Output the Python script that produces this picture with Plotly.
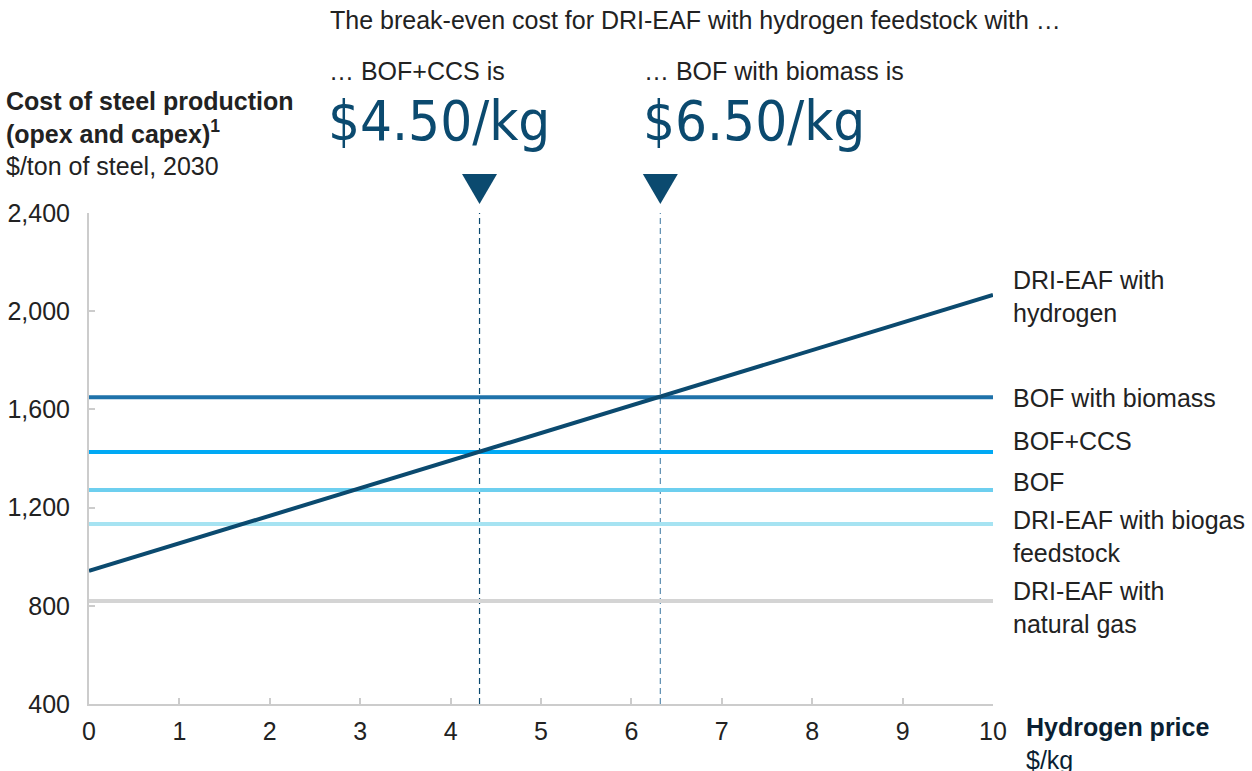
import plotly.graph_objects as go

# hydrogen price, $/kg
price = [0, 10]
# cost of steel production, $/ton of steel, 2030
dri_hydrogen = [942, 2066]
bof_biomass = [1650, 1650]
bof_ccs = [1426, 1426]
bof = [1272, 1272]
dri_biogas = [1133, 1133]
dri_natgas = [820, 820]

breakeven_x = [4.32, 6.32]
breakeven_lbl = ["… BOF+CCS is", "… BOF with biomass is"]
breakeven_val = ["$4.50/kg", "$6.50/kg"]

series = [
    ("DRI-EAF with<br>natural gas", dri_natgas, "#D4D4D4"),
    ("DRI-EAF with biogas<br>feedstock", dri_biogas, "#A6E3F2"),
    ("BOF", bof, "#6DCFEF"),
    ("BOF+CCS", bof_ccs, "#00A9F4"),
    ("BOF with biomass", bof_biomass, "#1F72AA"),
    ("DRI-EAF with<br>hydrogen", dri_hydrogen, "#0B4A6F"),
]
# label positions (pixel rows of the label centres)
label_rows = [607, 536, 482, 441, 398, 296]

FONT = "Liberation Sans, Arial, sans-serif"
NAVY = "#0B4A6F"
TXT = "#222222"

W, H = 1252, 771
L, R, T, B = 89, 993, 213, 704


def px(xp, yp):
    # pixel -> paper coords
    return dict(x=(xp - L) / (R - L), y=(B - yp) / (B - T), xref="paper", yref="paper")


fig = go.Figure()

for name, ys, col in series:
    fig.add_trace(go.Scatter(x=price, y=ys, mode="lines", name=name,
                             line=dict(color=col, width=4), hoverinfo="skip"))

dash_cols = [NAVY, "#5C8DB0"]
for bx, dc in zip(breakeven_x, dash_cols):
    fig.add_shape(type="line", x0=bx, x1=bx, y0=400, y1=2432, xref="x", yref="y",
                  line=dict(color=dc, width=1.2, dash="6px,4px"), layer="below")
    # triangle marker above the plot
    fig.add_shape(type="path", xref="x", yref="paper", xsizemode="pixel", ysizemode="pixel",
                  xanchor=bx, yanchor=1, path="M-17.5,39 L17.5,39 L0,9 Z",
                  fillcolor=NAVY, line=dict(width=0))

anns = []
for (name, ys, col), row in zip(series, label_rows):
    anns.append(dict(**px(1011, row), text=name, showarrow=False,
                     xanchor="left", yanchor="middle", align="left",
                     font=dict(size=25, color=TXT, family=FONT)))

anns.append(dict(**px(328, 20), text="The break-even cost for DRI-EAF with hydrogen feedstock with …",
                 showarrow=False, xanchor="left", yanchor="middle",
                 font=dict(size=25, color=TXT, family=FONT)))
for i, lx in enumerate([330, 645]):
    anns.append(dict(**px(lx - 3, 71), text=breakeven_lbl[i], showarrow=False,
                     xanchor="left", yanchor="middle",
                     font=dict(size=25, color=TXT, family=FONT)))
    anns.append(dict(**px(lx - 4, 120), text=breakeven_val[i], showarrow=False,
                     xanchor="left", yanchor="middle",
                     font=dict(size=56, color=NAVY,
                               family="DejaVu Sans Condensed, Liberation Sans Narrow, sans-serif")))

anns.append(dict(**px(4, 133), text="<b>Cost of steel production<br>(opex and capex)<sup>1</sup></b><br>$/ton of steel, 2030",
                 showarrow=False, xanchor="left", yanchor="middle", align="left",
                 font=dict(size=25, color=TXT, family=FONT)))
anns.append(dict(**px(1024, 743), text="<b>Hydrogen price</b><br>$/kg",
                 showarrow=False, xanchor="left", yanchor="middle", align="left",
                 font=dict(size=25, color="#0A1F33", family=FONT)))

fig.update_layout(
    width=W, height=H,
    margin=dict(l=L, r=W - R, t=T, b=H - B),
    plot_bgcolor="white", paper_bgcolor="white",
    showlegend=False,
    annotations=anns,
    font=dict(family=FONT, size=25, color=TXT),
)
fig.update_xaxes(range=[0, 10], tickvals=list(range(11)), showgrid=False, zeroline=False,
                 showline=True, linecolor="#CCCCCC", linewidth=2,
                 ticks="inside", ticklen=6, tickcolor="#CCCCCC", tickwidth=2,
                 ticklabelstandoff=4, automargin=False)
fig.update_yaxes(range=[400, 2400], tickvals=[400, 800, 1200, 1600, 2000, 2400],
                 tickformat=",", showgrid=False, zeroline=False,
                 showline=True, linecolor="#CCCCCC", linewidth=2,
                 ticks="inside", ticklen=6, tickcolor="#CCCCCC", tickwidth=2,
                 ticklabelstandoff=12, automargin=False)

fig.write_html("out.html", config={"displayModeBar": False},
               post_script="document.body.style.margin='0';")
